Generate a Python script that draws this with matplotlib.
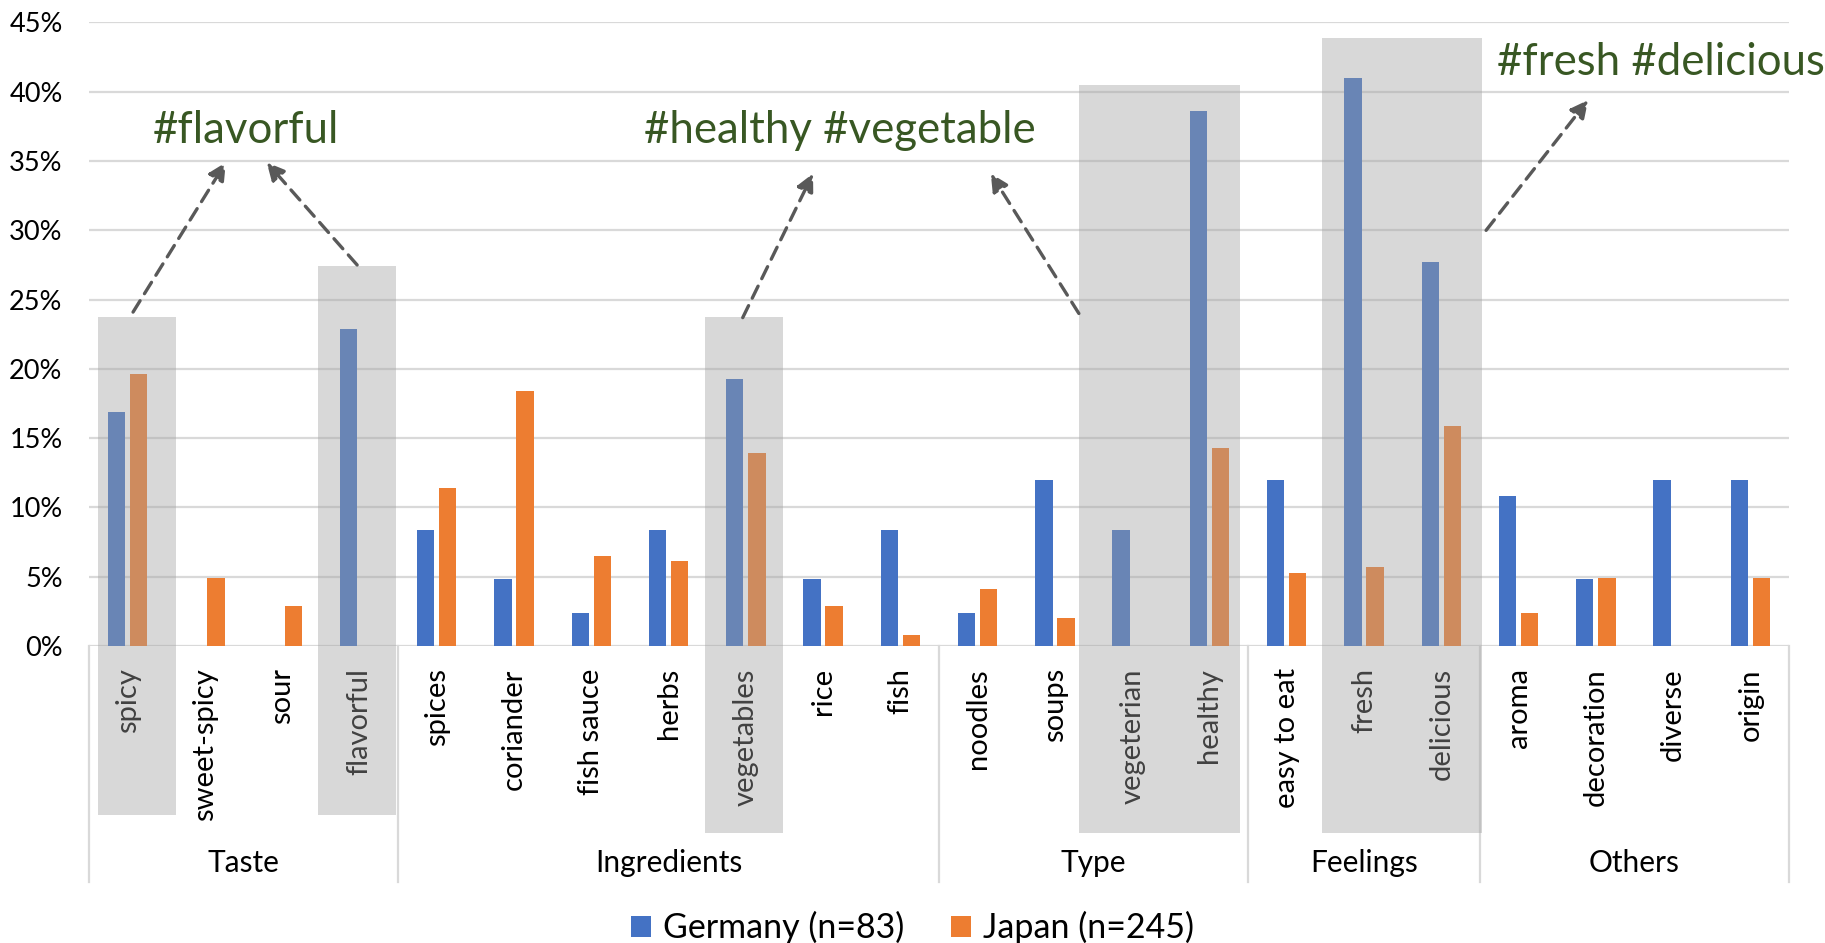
import matplotlib
matplotlib.use("Agg")
import matplotlib.pyplot as plt
from matplotlib.patches import Rectangle
from matplotlib.ticker import FuncFormatter

plt.rcParams['font.family'] = ['Lato', 'DejaVu Sans']

# Anteil der Nennungen in % je Begriff
labels = ['spicy', 'sweet-spicy', 'sour', 'flavorful',
          'spices', 'coriander', 'fish sauce', 'herbs', 'vegetables', 'rice', 'fish',
          'noodles', 'soups', 'vegeterian', 'healthy',
          'easy to eat', 'fresh', 'delicious',
          'aroma', 'decoration', 'diverse', 'origin']
germany = [16.9, 0, 0, 22.9,
           8.4, 4.8, 2.4, 8.4, 19.3, 4.8, 8.4,
           2.4, 12.0, 8.4, 38.6,
           12.0, 41.0, 27.7,
           10.8, 4.8, 12.0, 12.0]
japan = [19.6, 4.9, 2.9, 0,
         11.4, 18.4, 6.5, 6.1, 13.9, 2.9, 0.8,
         4.1, 2.0, 0, 14.3,
         5.3, 5.7, 15.9,
         2.4, 4.9, 0, 4.9]
groups = ['Taste', 'Ingredients', 'Type', 'Feelings', 'Others']
group_sizes = [4, 7, 4, 3, 4]

# hervorgehobene Bereiche: (x von, x bis, oben, unten)
highlights = [(-0.38, 0.63, 23.75, -12.2),
              (2.46, 3.47, 27.4, -12.2),
              (7.47, 8.48, 23.75, -13.5),
              (12.31, 14.40, 40.5, -13.5),
              (15.46, 17.53, 43.9, -13.5)]
# Pfeile: (Start, Ziel)
arrows = [((0.07, 24.1), (1.27, 34.9)),
          ((2.97, 27.5), (1.80, 34.9)),
          ((7.96, 23.7), (8.87, 34.1)),
          ((12.31, 24.0), (11.17, 34.1)),
          ((17.58, 30.0), (18.90, 39.4))]
hashtags = [('#flavorful', 1.53, 37.2),
            ('#healthy #vegetable', 9.22, 37.2),
            ('#fresh #delicious', 19.84, 42.1)]

fig = plt.figure(figsize=(18.25, 9.43), dpi=100)
ax = fig.add_axes([0.04877, 0.31495, 0.93151, 0.66119])

x = range(len(labels))
bw = 0.224
ax.bar([i - 0.143 for i in x], germany, bw, color='#4472C4', label='Germany (n=83)', zorder=2)
ax.bar([i + 0.143 for i in x], japan, bw, color='#ED7D31', label='Japan (n=245)', zorder=2)

ax.set_xlim(-0.5, len(labels) - 0.5)
ax.set_ylim(0, 45)
ax.set_yticks(range(0, 46, 5))
ax.yaxis.set_major_formatter(FuncFormatter(lambda v, p: f'{v:.0f}%'))
ax.grid(axis='y', color='#D9D9D9', lw=1.6, zorder=0)
ax.set_axisbelow(True)
for s in ax.spines.values():
    s.set_visible(False)
ax.tick_params(axis='y', length=0, pad=19, labelsize=19.5, labelcolor='black')
ax.set_xticks(list(x))
ax.set_xticklabels(labels, rotation=90, va='top')
ax.tick_params(axis='x', length=0, pad=16, labelsize=21)

# Gruppenachse mit Trennlinien
tr = ax.get_xaxis_transform()
pos = -0.5
ax.plot([pos, pos], [0, -0.3785], color='#D9D9D9', lw=1.6, transform=tr, clip_on=False)
for g, n in zip(groups, group_sizes):
    ax.text(pos + n / 2, -0.348, g, transform=tr, ha='center', va='center', fontsize=21.5)
    pos += n
    ax.plot([pos, pos], [0, -0.3785], color='#D9D9D9', lw=1.6, transform=tr, clip_on=False)

for x0, x1, top, bot in highlights:
    ax.add_patch(Rectangle((x0, bot), x1 - x0, top - bot, facecolor='#A1A1A1',
                           alpha=0.406, edgecolor='none', clip_on=False, zorder=4))

for (xs, ys), (xe, ye) in arrows:
    ax.annotate('', xy=(xe, ye), xytext=(xs, ys),
                arrowprops=dict(arrowstyle='-|>', linestyle=(0, (4, 2.5)), lw=2.4,
                                color='#595959', mutation_scale=26,
                                shrinkA=0, shrinkB=0), zorder=5)

for t, tx, ty in hashtags:
    ax.text(tx, ty, t, ha='center', va='center', fontsize=31.5, color='#385723', zorder=6)

ax.legend(loc='center', bbox_to_anchor=(0.5, 0.016), bbox_transform=fig.transFigure,
          ncol=2, frameon=False, fontsize=24.5, handlelength=0.6, handleheight=0.6,
          handletextpad=0.35, columnspacing=1.37)

fig.savefig('out.png', dpi=100)
